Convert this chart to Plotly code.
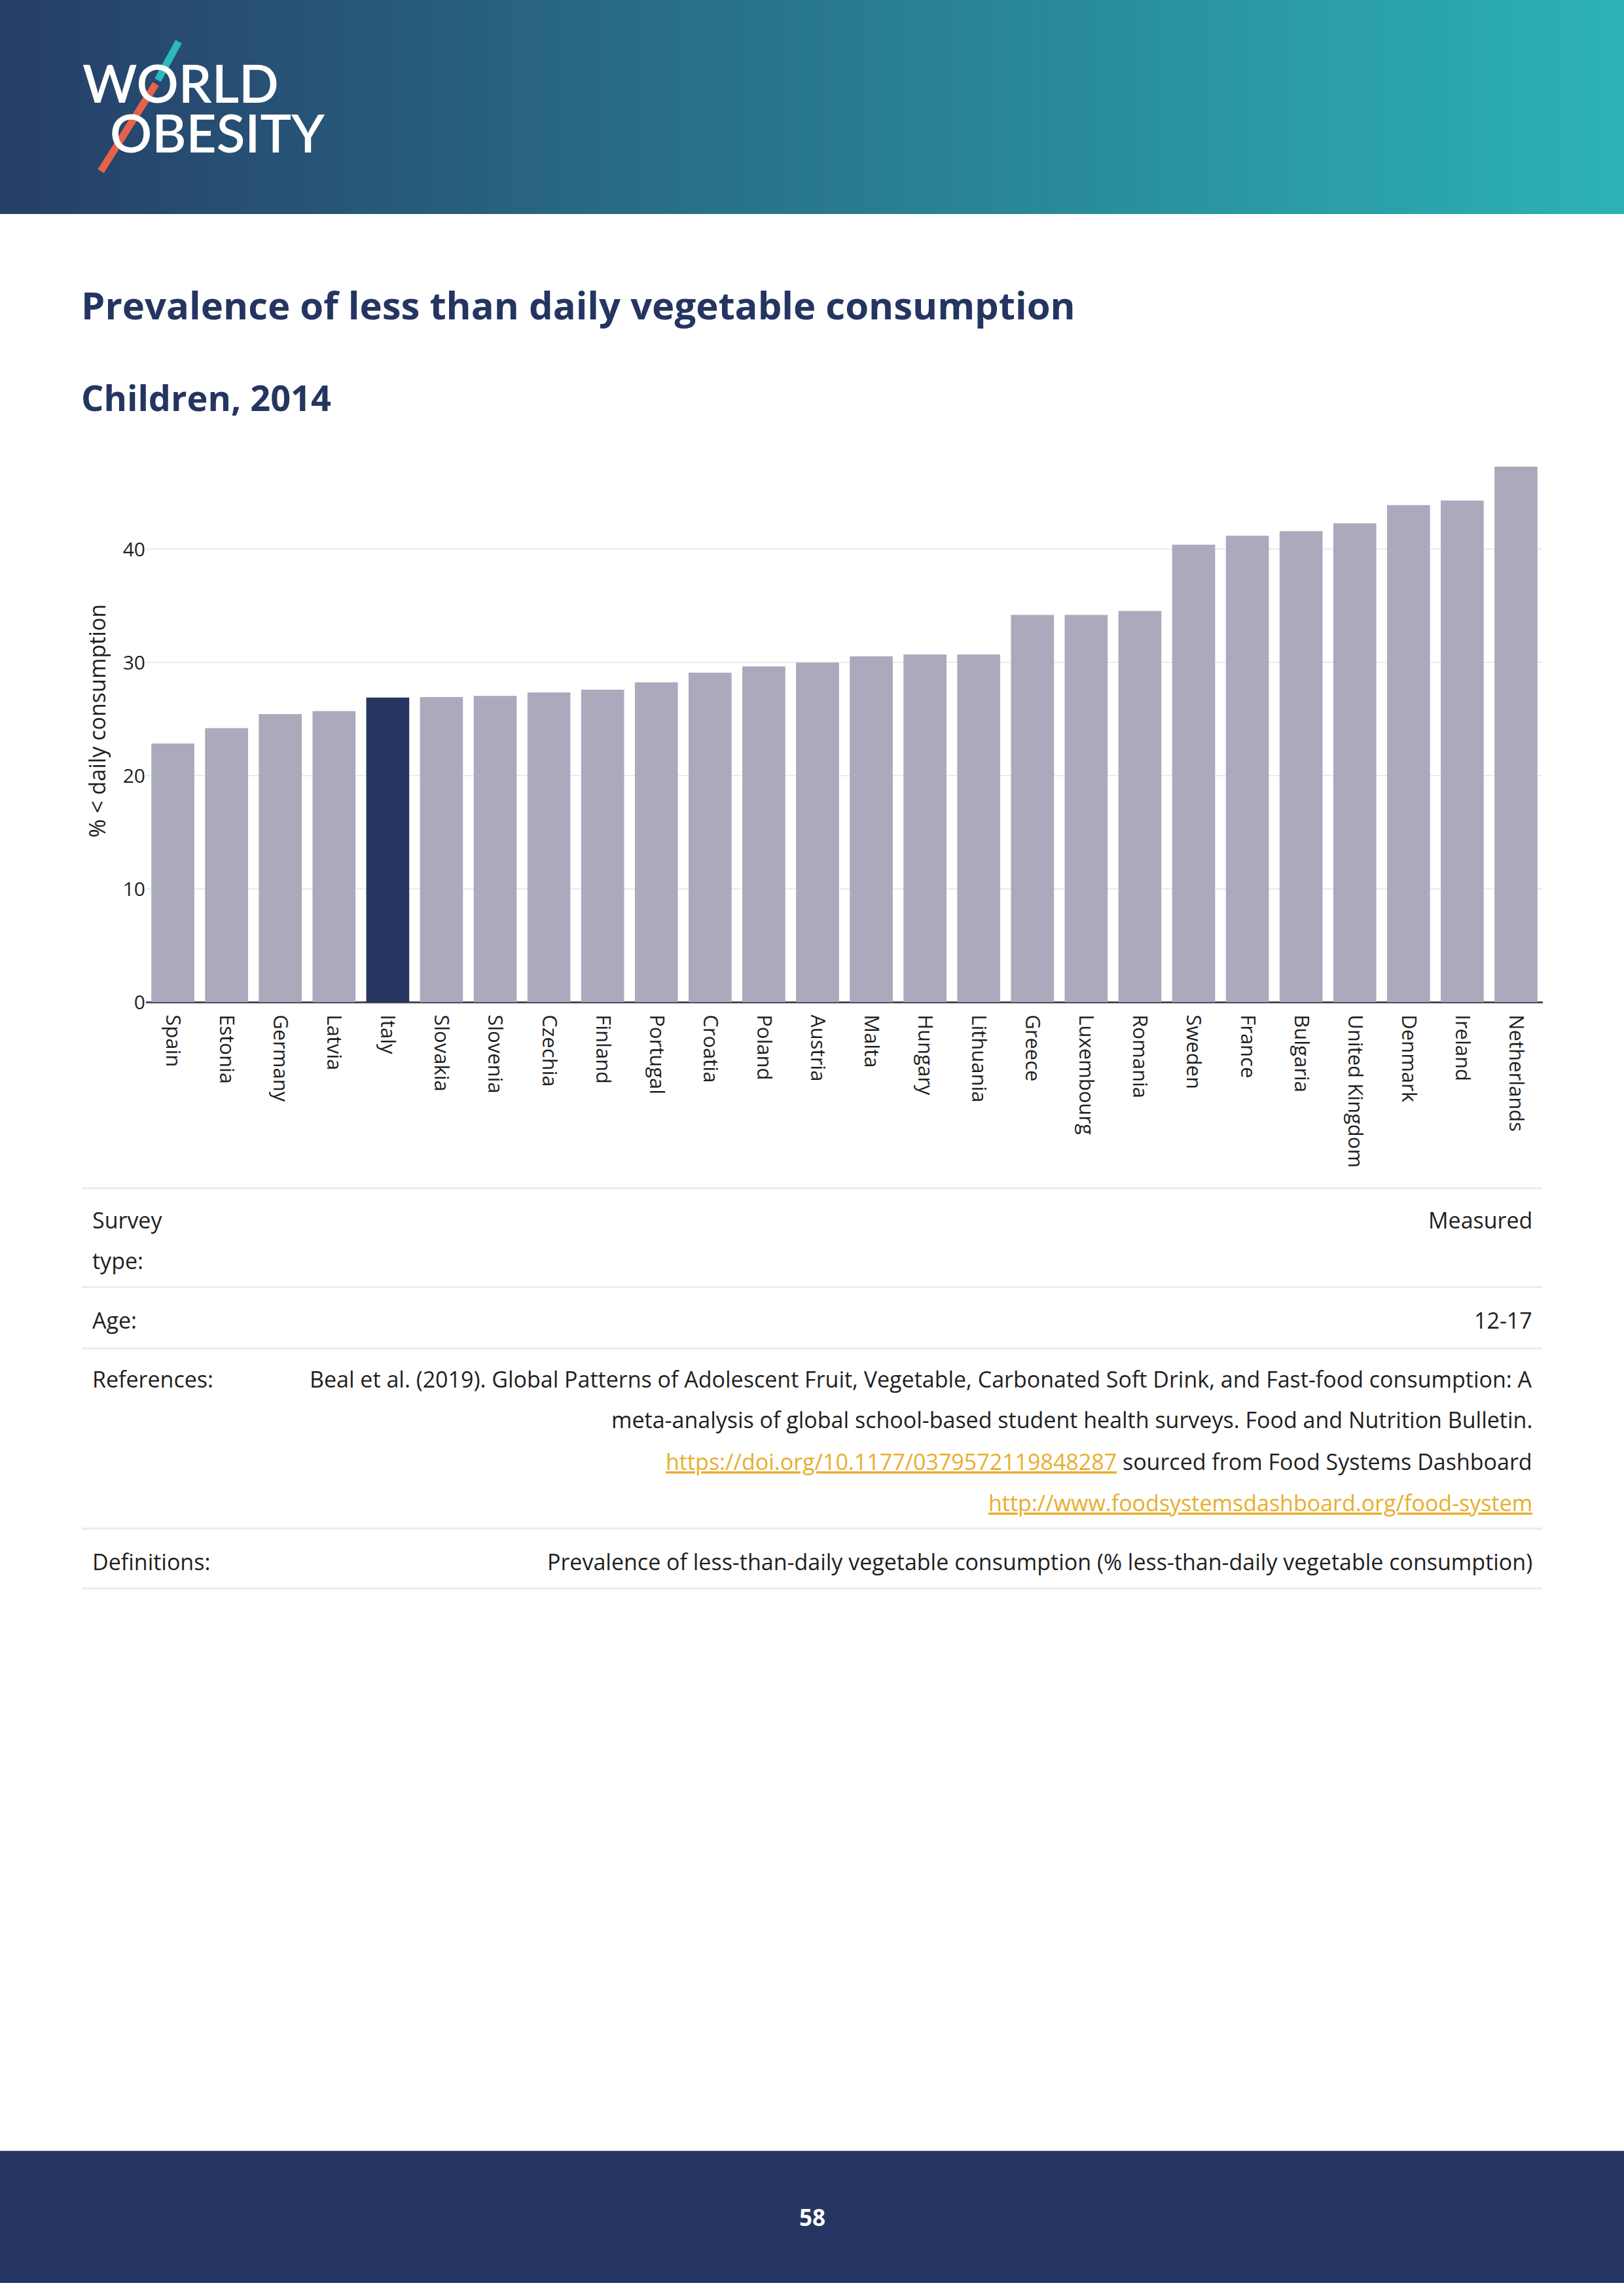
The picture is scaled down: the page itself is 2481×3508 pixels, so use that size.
import plotly.graph_objects as go

W, H = 2481, 3508

# ---------------- data ----------------
countries = ["Spain", "Estonia", "Germany", "Latvia", "Italy", "Slovakia", "Slovenia",
             "Czechia", "Finland", "Portugal", "Croatia", "Poland", "Austria", "Malta",
             "Hungary", "Lithuania", "Greece", "Luxembourg", "Romania", "Sweden", "France",
             "Bulgaria", "United Kingdom", "Denmark", "Ireland", "Netherlands"]
values = [22.85, 24.2, 25.45, 25.7, 26.9, 26.95, 27.05, 27.35, 27.6, 28.25, 29.1, 29.65,
          30.0, 30.55, 30.7, 30.7, 34.2, 34.2, 34.55, 40.4, 41.2, 41.6, 42.3, 43.9, 44.3, 47.3]
highlight = "Italy"
ytick_vals = [0, 10, 20, 30, 40]

title = "Prevalence of less than daily vegetable consumption"
subtitle = "Children, 2014"
y_title = "% &lt; daily consumption"

survey_type = "Measured"
age = "12-17"
ref_lines = [
    "Beal et al. (2019). Global Patterns of Adolescent Fruit, Vegetable, Carbonated Soft Drink, and Fast-food consumption: A",
    "meta-analysis of global school-based student health surveys. Food and Nutrition Bulletin.",
]
doi_link = "https://doi.org/10.1177/0379572119848287"
doi_suffix = " sourced from Food Systems Dashboard"
fsd_link = "http://www.foodsystemsdashboard.org/food-system"
definition = "Prevalence of less-than-daily vegetable consumption (% less-than-daily vegetable consumption)"
page_number = "58"

# ---------------- style ----------------
FONT = "Open Sans"
LOGO_FONT = "Lato"
NAVY = "#253561"
BAR = "#aba9bc"
TEXT = "#1f1f1f"
LINK = "#e8ae2c"


def px(x):
    return x / W


def py(y):
    return 1 - y / H


bar_colors = [NAVY if c == highlight else BAR for c in countries]

fig = go.Figure()
fig.add_trace(go.Bar(
    x=countries, y=values,
    marker=dict(color=bar_colors, line=dict(width=0)),
    hoverinfo="skip",
))

shapes = []
annotations = []

# header gradient
c0 = (38, 62, 104)
c1 = (43, 178, 183)
n = 120
for i in range(n):
    t = i / (n - 1)
    col = tuple(int(round(c0[k] + (c1[k] - c0[k]) * t)) for k in range(3))
    shapes.append(dict(type="rect", xref="paper", yref="paper",
                       x0=i / n, x1=(i + 1) / n + 0.001, y0=py(329), y1=1,
                       fillcolor="rgb(%d,%d,%d)" % col, line=dict(width=0), layer="below"))

# footer
shapes.append(dict(type="rect", xref="paper", yref="paper", x0=0, x1=1, y0=0, y1=py(3305),
                   fillcolor=NAVY, line=dict(width=0), layer="below"))

# logo text
annotations.append(dict(text="WORLD", x=px(124), y=py(127), xref="paper", yref="paper",
                        xanchor="left", yanchor="middle", showarrow=False, height=74,
                        valign="middle",
                        font=dict(family=LOGO_FONT, size=80, color="white", weight=600)))
annotations.append(dict(text="OBESITY", x=px(166), y=py(203), xref="paper", yref="paper",
                        xanchor="left", yanchor="middle", showarrow=False, height=74,
                        valign="middle",
                        font=dict(family=LOGO_FONT, size=80, color="white", weight=600)))
# logo slashes
shapes.append(dict(type="line", xref="paper", yref="paper",
                   x0=px(273), y0=py(64), x1=px(241), y1=py(123),
                   line=dict(color="#2bb9bb", width=11)))
shapes.append(dict(type="line", xref="paper", yref="paper",
                   x0=px(238), y0=py(129), x1=px(154), y1=py(263),
                   line=dict(color="#e8614a", width=11)))

# titles
annotations.append(dict(text="<b>%s</b>" % title, x=px(122), y=py(468), xref="paper", yref="paper",
                        xanchor="left", yanchor="middle", showarrow=False,
                        font=dict(family=FONT, size=58, color=NAVY)))
annotations.append(dict(text="<b>%s</b>" % subtitle, x=px(122), y=py(610), xref="paper", yref="paper",
                        xanchor="left", yanchor="middle", showarrow=False,
                        font=dict(family=FONT, size=54, color=NAVY)))

# y-axis title
annotations.append(dict(text=y_title, x=px(148), y=py(1108), xref="paper", yref="paper",
                        xanchor="center", yanchor="middle", showarrow=False, textangle=-90,
                        font=dict(family=FONT, size=34, color=TEXT)))

# table lines
for yl in [1826, 1978, 2072, 2349, 2441]:
    shapes.append(dict(type="line", xref="paper", yref="paper",
                       x0=px(125), x1=px(2356), y0=py(yl), y1=py(yl),
                       line=dict(color="#e6edf2", width=3)))

tfont = dict(family=FONT, size=34, color=TEXT)


def ann_left(text, y):
    annotations.append(dict(text=text, x=px(139), y=py(y), xref="paper", yref="paper",
                            xanchor="left", yanchor="middle", showarrow=False, font=tfont))


def ann_right(text, y):
    annotations.append(dict(text=text, x=px(2343), y=py(y), xref="paper", yref="paper",
                            xanchor="right", yanchor="middle", showarrow=False, font=tfont))


ann_left("Survey", 1875)
ann_left("type:", 1937)
ann_right(survey_type, 1875)
ann_left("Age:", 2029)
ann_right(age, 2029)
ann_left("References:", 2119)
ann_right(ref_lines[0], 2119)
ann_right(ref_lines[1], 2181)
ann_right('<span style="color:%s;text-decoration:underline">%s</span>%s' % (LINK, doi_link, doi_suffix), 2246)
ann_right('<span style="color:%s;text-decoration:underline">%s</span>' % (LINK, fsd_link), 2309)
ann_left("Definitions:", 2400)
ann_right(definition, 2400)

# page number
annotations.append(dict(text="<b>%s</b>" % page_number, x=0.5, y=py(3407), xref="paper", yref="paper",
                        xanchor="center", yanchor="middle", showarrow=False,
                        font=dict(family=FONT, size=35, color="white")))

fig.update_layout(
    width=W, height=H,
    margin=dict(l=0, r=0, t=0, b=0),
    paper_bgcolor="white", plot_bgcolor="white",
    showlegend=False,
    bargap=0.2,
    font=dict(family=FONT, color=TEXT),
    xaxis=dict(domain=[px(223), px(2357)], range=[-0.5, len(countries) - 0.5],
               tickangle=90, tickfont=dict(family=FONT, size=31, color=TEXT),
               ticklabelstandoff=18,
               showgrid=False, showline=False, ticks="", fixedrange=True),
    yaxis=dict(domain=[py(1540), py(670)], range=[0, 50], tickvals=ytick_vals,
               tickfont=dict(family=FONT, size=30, color=TEXT),
               showgrid=True, gridcolor="#ebebef", gridwidth=2,
               zeroline=True, zerolinecolor="#4a4858", zerolinewidth=3,
               showline=False, ticks="", fixedrange=True),
    shapes=shapes,
    annotations=annotations,
)

fig.write_html("out.html",
               config={"displayModeBar": False, "staticPlot": True},
               post_script="document.body.style.margin='0';document.body.style.padding='0';"
                           "document.documentElement.style.overflow='hidden';")
